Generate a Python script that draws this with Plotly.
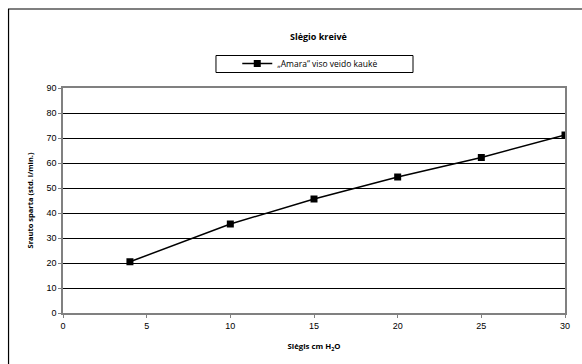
import plotly.graph_objects as go

pressure = [4, 10, 15, 20, 25, 30]
flow = [20.5, 35.6, 45.6, 54.4, 62.2, 71.2]
series_name = "„Amara“ viso veido kaukė"
title_text = "Slėgio kreivė"
x_title = "Slėgis cm H<sub>2</sub>O"
y_title = "Srauto sparta (std. l/min.)"
x_ticks = [0, 5, 10, 15, 20, 25, 30]
y_ticks = [0, 10, 20, 30, 40, 50, 60, 70, 80, 90]

L, R, T, B = 63, 12, 88, 51
W, H = 582, 364
pw, ph = W - L - R, H - T - B

def px(x):
    return (x - L) / pw

def py(y):
    return (H - B - y) / ph

fig = go.Figure()
fig.add_trace(go.Scatter(
    x=pressure, y=flow, mode="lines+markers", name=series_name,
    line=dict(color="black", width=1.5),
    marker=dict(symbol="square", size=7, color="black"),
    showlegend=True,
))

fig.update_layout(
    width=W, height=H,
    margin=dict(l=L, r=R, t=T, b=B),
    paper_bgcolor="white", plot_bgcolor="white",
    font=dict(family="Liberation Sans, Arial", color="black", size=9),
    title=dict(text="<b>" + title_text + "</b>", x=px(321), xref="paper", xanchor="center",
               y=1 - 37 / H, yanchor="middle",
               font=dict(family="Open Sans", size=9, color="black")),
    showlegend=True,
    legend=dict(orientation="h", x=px(239), y=py(63.5), xanchor="left", yanchor="middle",
                borderwidth=0, bgcolor="rgba(0,0,0,0)",
                font=dict(family="Open Sans", size=8.5, color="black"),
                itemwidth=30),
    xaxis=dict(range=[0, 30], tickvals=x_ticks, ticks="outside", ticklen=3,
               tickcolor="#808080", showline=True, linecolor="#808080", linewidth=1.5,
               mirror=True, showgrid=False, zeroline=False,
               tickfont=dict(family="Liberation Sans", size=9),
               title=dict(text="<b>" + x_title + "</b>", standoff=14,
                          font=dict(family="Open Sans", size=7.8))),
    yaxis=dict(range=[0, 90], tickvals=y_ticks, ticks="outside", ticklen=3,
               tickcolor="#808080", showline=True, linecolor="#808080", linewidth=1.5,
               mirror=True, showgrid=True, gridcolor="black", gridwidth=1, zeroline=False,
               tickfont=dict(family="Liberation Sans", size=9),
               title=dict(text="<b>" + y_title + "</b>", standoff=12,
                          font=dict(family="Open Sans", size=7.5))),
)

fig.add_shape(type="rect", xref="paper", yref="paper",
              x0=px(8), y0=py(380), x1=px(600), y1=py(9),
              line=dict(color="black", width=1.2), fillcolor="rgba(0,0,0,0)", layer="below")
fig.add_shape(type="rect", xref="paper", yref="paper",
              x0=px(217.5), y0=py(72.5), x1=px(416.5), y1=py(55.5),
              line=dict(color="black", width=1), fillcolor="white", layer="below")

fig.write_html("out.html", config={"displayModeBar": False},
               post_script="document.body.style.margin='0';document.body.style.overflow='hidden';")
